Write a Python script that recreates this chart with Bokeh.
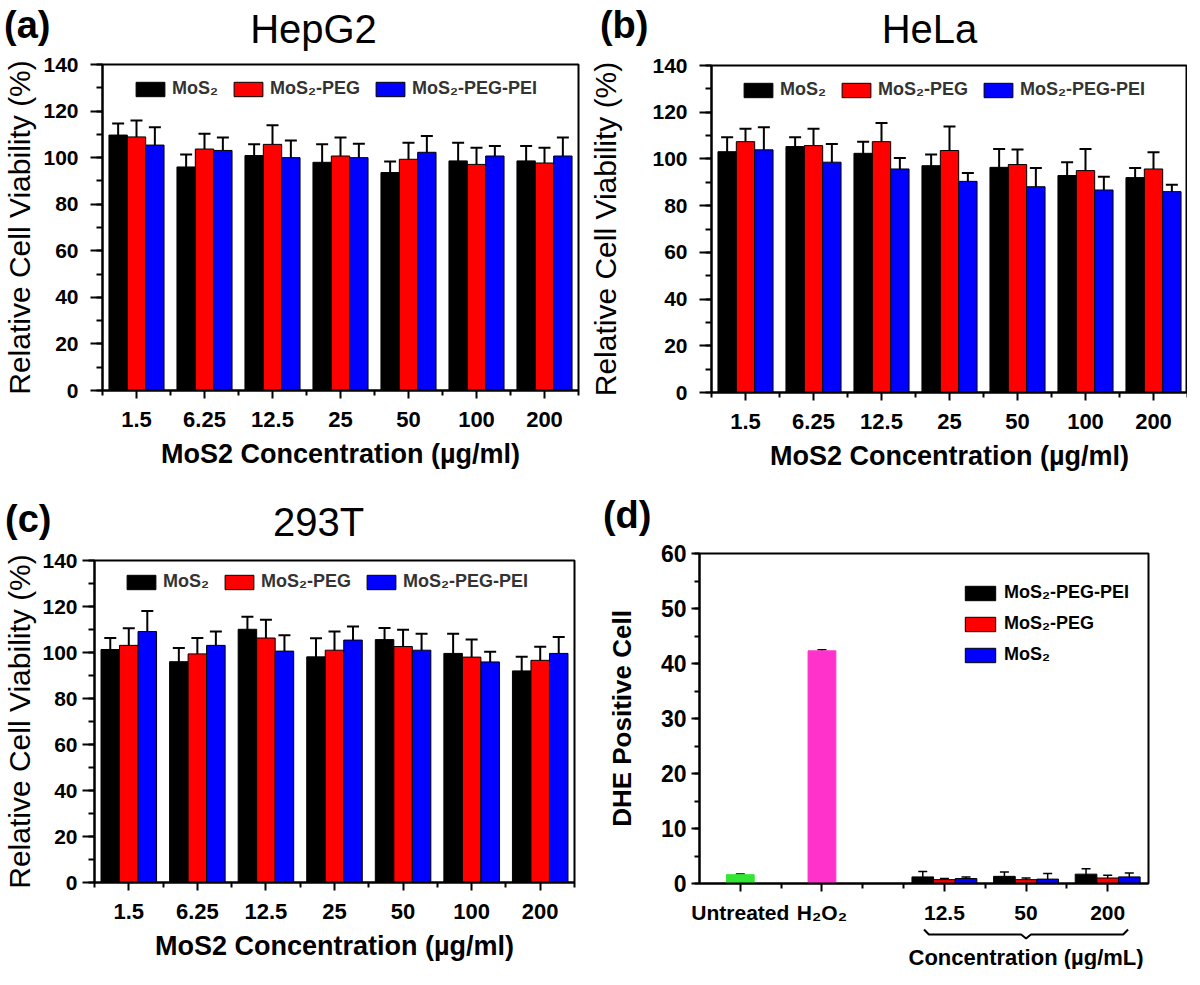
import numpy as np
from bokeh.plotting import figure
from bokeh.models import (ColumnDataSource, Range1d, FixedTicker, SingleIntervalTicker,
                          Whisker, TeeHead, Legend, LegendItem)
from bokeh.layouts import column, row
from bokeh.core.properties import value
from bokeh.embed import file_html
from bokeh.resources import INLINE

FONT = "Liberation Sans"

# ---------------- data: panels (a)-(c), relative cell viability (%) ----------------
concentrations = ["1.5", "6.25", "12.5", "25", "50", "100", "200"]
series_names = ["MoS₂", "MoS₂-PEG", "MoS₂-PEG-PEI"]
series_colors = ["#000000", "#ff0000", "#0000ff"]

hepg2_mos2 = [109.7, 96.0, 100.9, 98.0, 93.6, 98.6, 98.6]
hepg2_mos2_err = [5.0, 5.4, 4.8, 7.7, 4.7, 7.8, 6.4]
hepg2_peg = [108.9, 103.7, 105.7, 100.7, 99.3, 97.1, 97.7]
hepg2_peg_err = [7.1, 6.6, 8.2, 7.9, 7.1, 7.2, 6.6]
hepg2_pei = [105.4, 103.1, 100.0, 100.0, 102.3, 100.7, 100.7]
hepg2_pei_err = [7.6, 5.5, 7.4, 6.0, 7.0, 4.3, 7.9]

hela_mos2 = [103.1, 105.3, 102.4, 97.1, 96.4, 92.9, 92.0]
hela_mos2_err = [6.2, 4.0, 5.0, 4.8, 7.9, 5.7, 4.1]
hela_peg = [107.4, 105.7, 107.4, 103.6, 97.6, 95.0, 95.7]
hela_peg_err = [5.5, 7.2, 8.0, 10.3, 6.4, 9.3, 7.2]
hela_pei = [103.9, 98.6, 95.7, 90.4, 88.1, 86.7, 86.0]
hela_pei_err = [9.7, 7.8, 4.7, 3.6, 8.0, 5.7, 2.9]

t293_mos2 = [101.3, 96.0, 110.1, 98.1, 105.6, 99.6, 92.0]
t293_mos2_err = [5.0, 6.0, 5.4, 8.1, 5.0, 8.6, 6.1]
t293_peg = [103.1, 99.4, 106.3, 101.0, 102.6, 98.0, 96.6]
t293_peg_err = [7.4, 6.9, 7.9, 8.1, 7.3, 7.6, 5.9]
t293_pei = [109.1, 103.1, 100.6, 105.4, 101.0, 95.9, 99.6]
t293_pei_err = [8.9, 6.0, 6.9, 5.9, 7.1, 4.4, 7.1]

# ---------------- data: panel (d), DHE positive cells ----------------
dhe_controls = ["Untreated", "H₂O₂"]
dhe_control_values = [1.6, 42.3]
dhe_control_errors = [0.15, 0.2]
dhe_control_colors = ["#33e633", "#ff33cc"]

dhe_concentrations = ["12.5", "50", "200"]
dhe_series_names = ["MoS₂-PEG-PEI", "MoS₂-PEG", "MoS₂"]
dhe_series_colors = ["#000000", "#ff0000", "#0000ff"]
dhe_pei = [1.2, 1.3, 1.7]
dhe_pei_err = [1.0, 0.8, 1.0]
dhe_peg = [0.7, 0.7, 1.0]
dhe_peg_err = [0.2, 0.3, 0.5]
dhe_mos2 = [0.9, 0.8, 1.2]
dhe_mos2_err = [0.3, 1.0, 0.7]

# slot layout of panel (d) x axis
dhe_control_slots = [1, 3]
dhe_conc_slots = [6, 8, 10]
dhe_minor_slots = [2, 4, 5, 7, 9]


def strip_fig(bl, fw, br, h, x_range=None, with_yaxis=False):
    f = figure(title=None, frame_width=fw, frame_height=h,
               min_border_left=bl, min_border_right=br, min_border_top=0, min_border_bottom=0,
               x_range=x_range if x_range is not None else Range1d(0, fw),
               y_range=Range1d(0, h),
               x_axis_type=None, y_axis_type="linear" if with_yaxis else None,
               output_backend="svg", toolbar_location=None, tools="")
    f.outline_line_color = None
    f.background_fill_color = "white"
    f.border_fill_color = "white"
    f.xgrid.visible = False
    f.ygrid.visible = False
    return f


def header_fig(bl, fw, br, h, letter, letter_standoff, letter_y, title=None, title_xy=None):
    f = strip_fig(bl, fw, br, h, with_yaxis=True)
    ya = f.yaxis[0]
    ya.ticker = FixedTicker(ticks=[letter_y], minor_ticks=[])
    ya.major_label_overrides = {letter_y: f"({letter})"}
    ya.axis_line_color = None
    ya.major_tick_line_color = None
    ya.minor_tick_line_color = None
    ya.major_tick_out = 0
    ya.major_tick_in = 0
    ya.minor_tick_out = 0
    ya.minor_tick_in = 0
    ya.major_label_standoff = letter_standoff
    ya.major_label_text_font = FONT
    ya.major_label_text_font_size = "38px"
    ya.major_label_text_font_style = "bold"
    ya.major_label_text_color = "black"
    if title is not None:
        f.text(x=[title_xy[0]], y=[title_xy[1]], text=[title],
               text_font=value(FONT), text_font_size=value("40px"), text_font_style=value("normal"),
               text_baseline=value("middle"), text_align=value("center"), text_color="black")
    return f


def style_common(p):
    p.xgrid.visible = False
    p.ygrid.visible = False
    p.outline_line_color = "black"
    p.outline_line_width = 2
    p.outline_line_alpha = 1
    p.background_fill_color = "white"
    p.border_fill_color = "white"
    for ax in (p.xaxis[0], p.yaxis[0]):
        ax.axis_line_width = 2
        ax.axis_line_color = "black"
        ax.major_tick_line_width = 2
        ax.minor_tick_line_width = 2
        ax.major_tick_line_color = "black"
        ax.minor_tick_line_color = "black"
        ax.major_tick_in = 0
        ax.minor_tick_in = 0
        ax.major_label_text_font = FONT
        ax.major_label_text_font_style = "bold"
        ax.major_label_text_color = "black"
        ax.axis_label_text_font = FONT
        ax.axis_label_text_color = "black"


def viability_panel(vals, errs, frame_w, frame_h, borders, legend_xy, ylab_standoff, ytick_standoff):
    bl, br, bt, bb = borders
    n = len(concentrations)
    p = figure(frame_width=frame_w, frame_height=frame_h,
               min_border_left=bl, min_border_right=br, min_border_top=bt, min_border_bottom=bb,
               x_range=Range1d(0.5, n + 0.5), y_range=Range1d(0, 140),
               output_backend="svg", toolbar_location=None, tools="")
    style_common(p)

    centers = np.arange(1, n + 1)
    offsets = [-0.27, 0.0, 0.27]
    items = []
    for v, e, name, color, off in zip(vals, errs, series_names, series_colors, offsets):
        v = np.asarray(v, dtype=float)
        e = np.asarray(e, dtype=float)
        src = ColumnDataSource(dict(x=centers + off, top=v, upper=v + e, lower=v - e))
        r = p.vbar(x="x", top="top", bottom=0, width=0.27, source=src,
                   fill_color=color, line_color="black", line_width=1)
        p.add_layout(Whisker(source=src, base="x", upper="upper", lower="lower",
                             line_color="black", line_width=2,
                             upper_head=TeeHead(size=12, line_width=2, line_color="black"),
                             lower_head=TeeHead(size=12, line_width=2, line_color="black")))
        items.append(LegendItem(label=name, renderers=[r]))

    legend = Legend(items=items, orientation="horizontal", location=legend_xy,
                    border_line_alpha=0, background_fill_alpha=0, padding=0, margin=0,
                    spacing=12, label_standoff=4, glyph_width=36, glyph_height=18,
                    label_height=18, label_text_font=FONT, label_text_font_size="18px",
                    label_text_font_style="bold", label_text_color="#333333")
    p.add_layout(legend)

    xa = p.xaxis[0]
    xa.ticker = FixedTicker(ticks=[int(c) for c in centers],
                            minor_ticks=[float(c) - 0.5 for c in centers] + [n + 0.5])
    xa.major_label_overrides = {int(c): lab for c, lab in zip(centers, concentrations)}
    xa.major_tick_out = 8
    xa.minor_tick_out = 5
    xa.major_label_standoff = 13
    xa.major_label_text_font_size = "22px"
    xa.axis_label = "MoS2 Concentration (µg/ml)"
    xa.axis_label_text_font_size = "27px"
    xa.axis_label_text_font_style = "bold"
    xa.axis_label_standoff = 9

    ya = p.yaxis[0]
    ya.ticker = SingleIntervalTicker(interval=20, num_minor_ticks=2)
    ya.major_tick_out = 12
    ya.minor_tick_out = 6
    ya.major_label_standoff = ytick_standoff
    ya.major_label_text_font_size = "21px"
    ya.axis_label = "Relative Cell Viability (%)"
    ya.axis_label_text_font_size = "30px"
    ya.axis_label_text_font_style = "normal"
    ya.axis_label_standoff = ylab_standoff
    return p


# ---- panel (a) ----  header 51 + main (13 + 326 + 92) = 482
ha = header_fig(99, 476, 7, 51, "a", 52, 33, "HepG2", (211, 23))
pa = viability_panel([hepg2_mos2, hepg2_peg, hepg2_pei], [hepg2_mos2_err, hepg2_peg_err, hepg2_pei_err],
                     476, 326, (99, 7, 13, 92), (30, 291), 4, 12)
# ---- panel (b) ----  header 51 + main (14 + 327 + 90) = 482
hb = header_fig(126, 476, 0, 51, "b", 63, 33, "HeLa", (218, 23))
pb = viability_panel([hela_mos2, hela_peg, hela_pei], [hela_mos2_err, hela_peg_err, hela_pei_err],
                     476, 327, (126, 0, 14, 90), (29, 292), 27, 12)
# ---- panel (c) ----  header 64 + main (14 + 322 + 87) = 487
hc = header_fig(90, 480, 12, 64, "c", 43, 28, "293T", (224, 25))
pc = viability_panel([t293_mos2, t293_peg, t293_pei], [t293_mos2_err, t293_peg_err, t293_pei_err],
                     480, 322, (90, 12, 14, 87), (29, 290), 3, 5)

# ---- panel (d) ----  header 57 + main (14 + 330 + 44) + footer 42 = 487
hd = header_fig(113, 449, 40, 57, "d", 48, 25)
pd_ = figure(frame_width=449, frame_height=330,
             min_border_left=113, min_border_right=40, min_border_top=14, min_border_bottom=44,
             x_range=Range1d(0, 11), y_range=Range1d(0, 60),
             output_backend="svg", toolbar_location=None, tools="")
style_common(pd_)

cv = np.asarray(dhe_control_values)
ce = np.asarray(dhe_control_errors)
csrc = ColumnDataSource(dict(x=dhe_control_slots, top=cv, upper=cv + ce, lower=cv - ce,
                             color=dhe_control_colors))
pd_.vbar(x="x", top="top", bottom=0, width=0.68, source=csrc,
         fill_color="color", line_color="color", line_width=1)
pd_.add_layout(Whisker(source=csrc, base="x", upper="upper", lower="lower",
                       line_color="black", line_width=1.5,
                       upper_head=TeeHead(size=9, line_width=1.5, line_color="black"),
                       lower_head=TeeHead(size=9, line_width=1.5, line_color="black")))

d_items = []
d_offsets = [-0.53, 0.0, 0.53]
for v, e, name, color, off in zip([dhe_pei, dhe_peg, dhe_mos2],
                                  [dhe_pei_err, dhe_peg_err, dhe_mos2_err],
                                  dhe_series_names, dhe_series_colors, d_offsets):
    v = np.asarray(v, dtype=float)
    e = np.asarray(e, dtype=float)
    src = ColumnDataSource(dict(x=np.asarray(dhe_conc_slots) + off, top=v, upper=v + e, lower=v - e))
    r = pd_.vbar(x="x", top="top", bottom=0, width=0.53, source=src,
                 fill_color=color, line_color="black", line_width=1)
    pd_.add_layout(Whisker(source=src, base="x", upper="upper", lower="lower",
                           line_color="black", line_width=1.5,
                           upper_head=TeeHead(size=9, line_width=1.5, line_color="black"),
                           lower_head=TeeHead(size=9, line_width=1.5, line_color="black")))
    d_items.append(LegendItem(label=name, renderers=[r]))

pd_.add_layout(Legend(items=d_items, orientation="vertical", location=(262, 218),
                      border_line_alpha=0, background_fill_alpha=0, padding=0, margin=0,
                      spacing=10, label_standoff=5, glyph_width=38, glyph_height=18,
                      label_height=18, label_text_font=FONT, label_text_font_size="18px",
                      label_text_font_style="bold", label_text_color="black"))

dx = pd_.xaxis[0]
dx.ticker = FixedTicker(ticks=dhe_control_slots + dhe_conc_slots, minor_ticks=dhe_minor_slots)
labels_d = dict(zip(dhe_control_slots, dhe_controls))
labels_d.update(dict(zip(dhe_conc_slots, dhe_concentrations)))
dx.major_label_overrides = labels_d
dx.major_tick_out = 8
dx.minor_tick_out = 5
dx.major_label_standoff = 9
dx.major_label_text_font_size = "21px"

dy = pd_.yaxis[0]
dy.ticker = SingleIntervalTicker(interval=10, num_minor_ticks=2)
dy.major_tick_out = 8
dy.minor_tick_out = 5
dy.major_label_standoff = 5
dy.major_label_text_font_size = "23px"
dy.axis_label = "DHE Positive Cell"
dy.axis_label_text_font_size = "26px"
dy.axis_label_text_font_style = "bold"
dy.axis_label_standoff = 21

# footer of (d): brace under the concentration groups and its caption (shares the x scale)
fd = strip_fig(113, 449, 40, 42, x_range=pd_.x_range)
bx0 = dhe_conc_slots[0] - 0.5
bx1 = dhe_conc_slots[-1] + 0.5
bxm = dhe_conc_slots[len(dhe_conc_slots) // 2]
fd.line(x=[bx0, bx0 + 0.12, bxm - 0.12, bxm, bxm + 0.12, bx1 - 0.12, bx1],
        y=[40, 35, 35, 31, 35, 35, 40], line_color="black", line_width=2)
fd.text(x=[bxm], y=[12], text=["Concentration (µg/mL)"],
        text_font=value(FONT), text_font_size=value("22px"), text_font_style=value("bold"),
        text_baseline=value("middle"), text_align=value("center"), text_color="black")

layout = column(row(column(ha, pa), column(hb, pb)),
                row(column(hc, pc), column(hd, pd_, fd)))
open("out.html", "w").write(file_html(layout, INLINE))
